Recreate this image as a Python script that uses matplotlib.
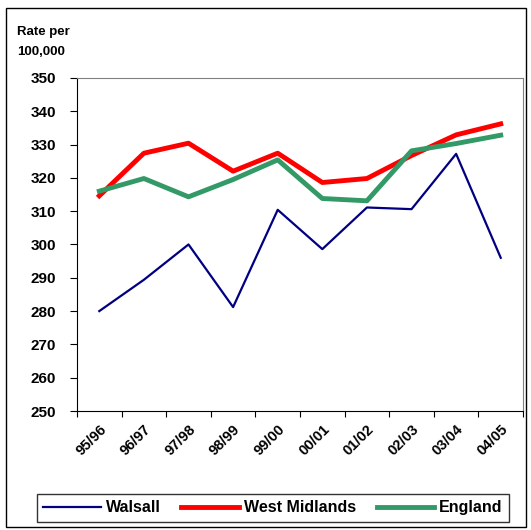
import matplotlib.pyplot as plt
import numpy as np

years = ['95/96', '96/97', '97/98', '98/99', '99/00',
         '00/01', '01/02', '02/03', '03/04', '04/05']
walsall = [280.0, 289.4, 300.0, 281.2, 310.4, 298.6, 311.1, 310.6, 327.2, 296.0]
west_mid = [314.6, 327.4, 330.4, 322.0, 327.4, 318.6, 319.8, 326.7, 332.9, 336.2]
england = [316.0, 319.8, 314.3, 319.5, 325.4, 313.8, 313.1, 328.1, 330.3, 332.8]

plt.rcParams['font.family'] = ['Liberation Sans', 'DejaVu Sans']

fig = plt.figure(figsize=(5.31, 5.30), dpi=100)
ax = fig.add_axes([0.145, 0.2245, 0.84, 0.6285])

x = np.arange(len(years))
ax.plot(x, walsall, color='#000080', lw=1.6, label='Walsall')
ax.plot(x, west_mid, color='#ff0000', lw=3.5, label='West Midlands')
ax.plot(x, england, color='#339966', lw=3.5, label='England')

ax.set_xlim(-0.5, len(years) - 0.5)
ax.set_ylim(250, 350)
ax.set_yticks(range(250, 351, 10))
ax.set_yticklabels([str(v) for v in range(250, 351, 10)],
                   fontsize=11, fontweight='bold')
ax.set_xticks(np.arange(-0.5, len(years), 1.0))
ax.set_xticklabels([])
ax.set_xticks(x, minor=True)
ax.set_xticklabels(years, minor=True, rotation=45, ha='right',
                   rotation_mode='anchor', fontsize=10.5, fontweight='bold')
ax.tick_params(axis='x', which='minor', length=0, pad=8)
ax.tick_params(axis='x', which='major', length=4, direction='out', color='black')
ax.tick_params(axis='y', length=5, direction='out', pad=10)

for s in ['top', 'right']:
    ax.spines[s].set_color('#808080')
for s in ['left', 'bottom']:
    ax.spines[s].set_color('black')

fig.text(0.032, 0.94, 'Rate per', fontsize=9.5, fontweight='bold', va='center')
fig.text(0.032, 0.902, '100,000', fontsize=9.5, fontweight='bold', va='center')

leg = ax.legend(loc='center', bbox_to_anchor=(0.514, 0.042),
                bbox_transform=fig.transFigure, ncol=3, frameon=True,
                fancybox=False, fontsize=11.5, handlelength=3.6,
                handletextpad=0.3, columnspacing=1.3, borderpad=0.4)
leg.get_frame().set_edgecolor('black')
leg.get_frame().set_linewidth(1.0)
for t in leg.get_texts():
    t.set_fontweight('bold')

border = plt.Rectangle((0.011, 0.006), 0.98, 0.978, transform=fig.transFigure,
                       fill=False, edgecolor='black', lw=1.0)
fig.patches.append(border)

fig.savefig('out.png', dpi=100)
